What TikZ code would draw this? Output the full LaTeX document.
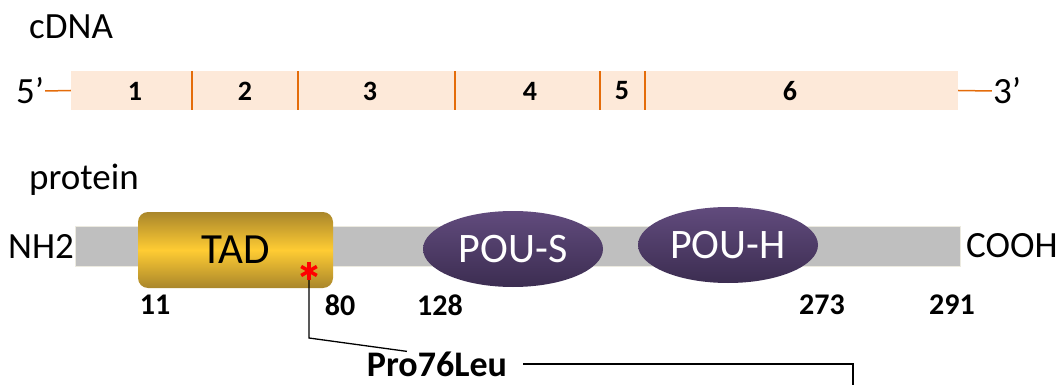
\documentclass[tikz,border=0pt]{standalone}
\usepackage{fontspec}
\setmainfont{Carlito}
\usetikzlibrary{shapes.geometric}

\definecolor{exonfill}{HTML}{FDE9D9}
\definecolor{exonline}{HTML}{E46C0A}
\definecolor{barfill}{HTML}{BFBFBF}
\definecolor{baredge}{HTML}{ECEAE0}
\definecolor{goldlo}{HTML}{A9862B}
\definecolor{goldhi}{HTML}{FFCC33}
\definecolor{pouhi}{HTML}{614B7D}
\definecolor{poulo}{HTML}{3C2D51}

\begin{document}
\begin{tikzpicture}[x=1pt,y=-1pt,
  txt/.style={font=\fontsize{37}{42}\selectfont,inner sep=1pt},
  num/.style={font=\fontsize{30}{34}\selectfont\bfseries,inner sep=1pt},
  pou/.style={ellipse,top color=pouhi,bottom color=poulo,text=white,
    minimum width=180pt,minimum height=76pt,font=\fontsize{42}{46}\selectfont},
  link/.style={line width=1.3pt}]
  \useasboundingbox (0,0) rectangle (1063,385);

  % cDNA
  \node[txt,anchor=west] (cdna) at (28,27) {cDNA};
  \node[fill=exonfill,minimum width=887pt,minimum height=39pt,inner sep=0pt] (cbar) at (514.5,90.5) {};
  \foreach \x in {192,298,455,600,645}
    \draw[exonline,line width=2pt] (\x,71) -- (\x,110);
  \foreach \x/\n in {135/1,245/2,370/3,530/4,622/5,790/6}
    \node[num,font=\fontsize{28}{32}\selectfont\bfseries] (ex\n) at (\x,91) {\n};

  % ends of the strand
  \node[txt] (five) at (30,91) {5’};
  \node[txt] (three) at (1007,91) {3’};
  \draw[exonline,line width=1.5pt] (five.east) -- (cbar.west);
  \draw[exonline,line width=1.5pt] (cbar.east) -- (three.west);

  % protein
  \node[txt,anchor=west] (prot) at (28,180) {protein};
  \node[fill=barfill,draw=baredge,line width=1pt,minimum width=885pt,minimum height=40pt,inner sep=0pt] (pbar) at (517.5,246) {};
  \node[txt,anchor=east] (nh) at (75,246) {NH2};
  \node[txt,anchor=west] (cooh) at (965,246) {COOH};

  % Domains
  \node[rounded corners=10pt,top color=goldlo,bottom color=goldlo,middle color=goldhi,
    minimum width=195pt,minimum height=76pt,font=\fontsize{43}{47}\selectfont] (tad) at (235.5,250) {TAD};
  \node[pou] (pous) at (513,249) {POU-S};
  \node[pou] (pouh) at (728,245) {POU-H};

  % Residue numbers
  \foreach \x/\n in {155/11,340/80,440/128,822/273,952/291}
    \node[num] (res\n) at (\x,305) {\n};

  % Mutation
  \coordinate (star) at (309,271);
  \foreach \a in {90,30,-30}
    \draw[red,line width=3.5pt] (star) ++(\a:9) -- ++(\a+180:18);
  \coordinate (kink) at (309,338);
  \coordinate (tail) at (853,386);
  \node[num,font=\fontsize{36}{40}\selectfont\bfseries,inner sep=0pt] (mut) at (437,364) {Pro76Leu};
  \draw[link] (star) ++(0,9) -- (kink) -- ([xshift=-3pt]mut.155);
  \draw[link] ([xshift=16pt]mut.east) -| (tail);
\end{tikzpicture}
\end{document}
